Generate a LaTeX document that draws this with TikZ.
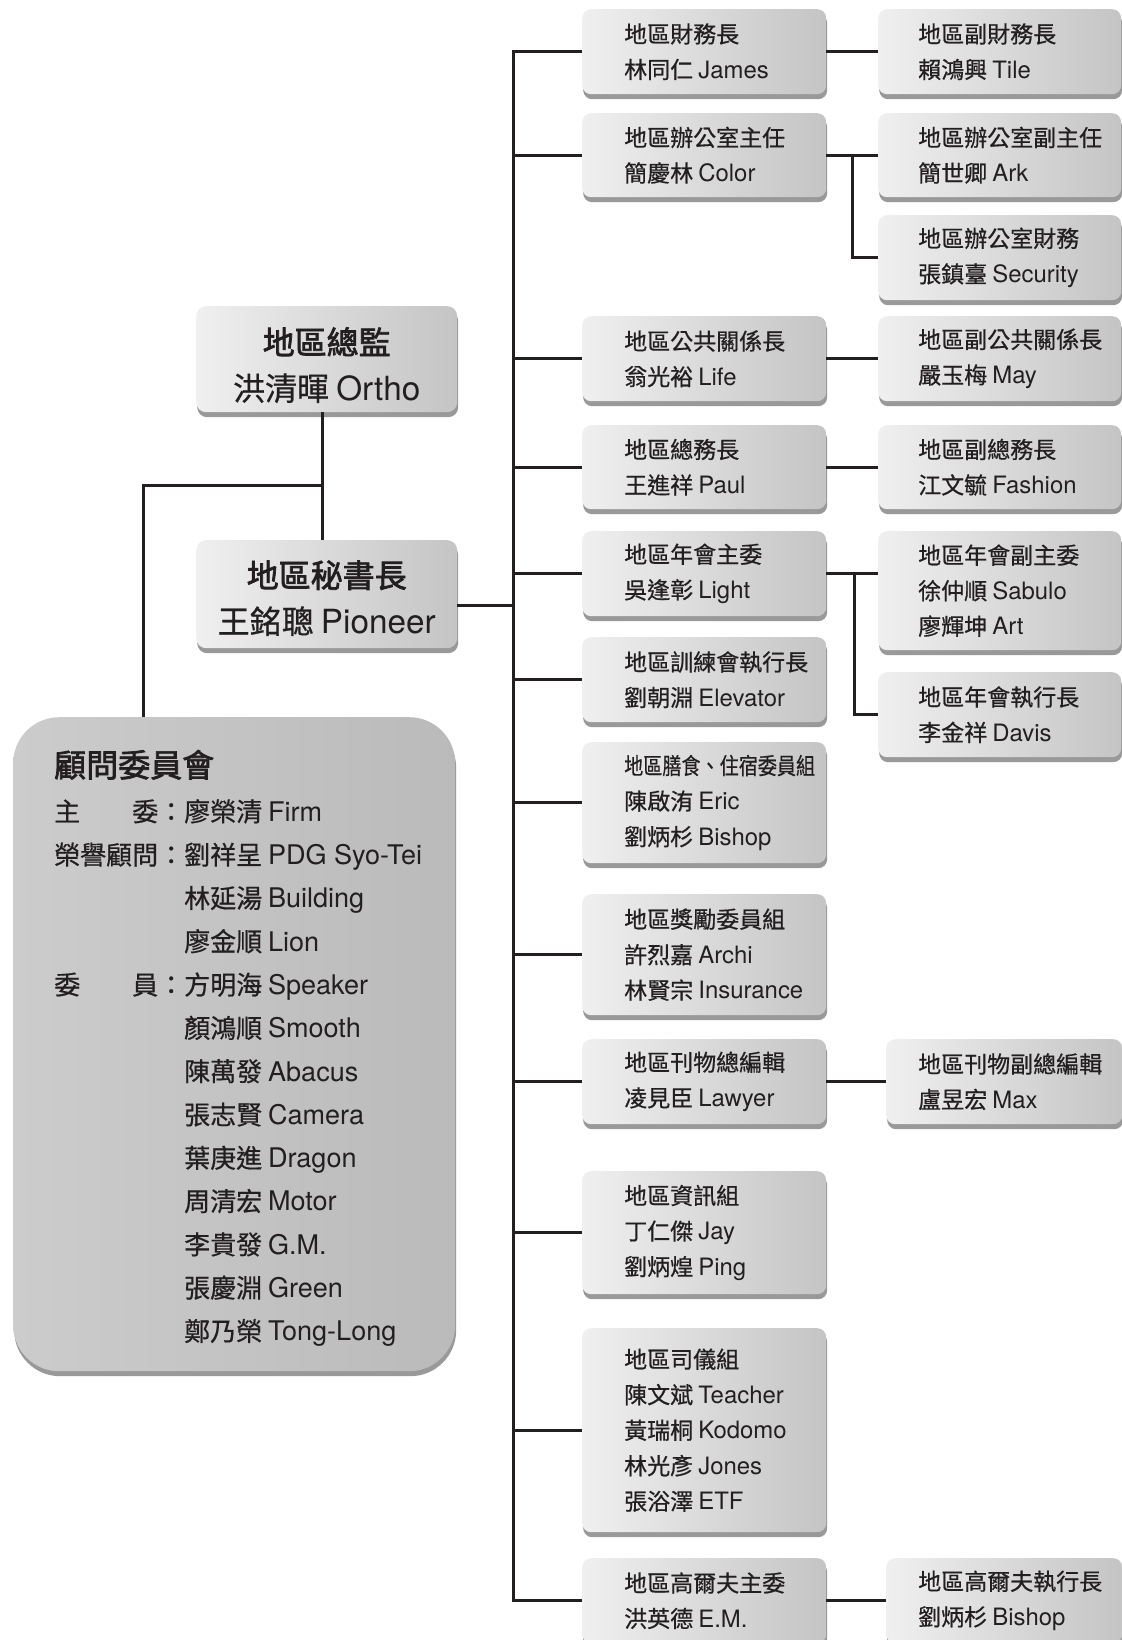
\documentclass[tikz,border=0pt]{standalone}
\usepackage{graphicx}
\usepackage{fontspec}
\setmainfont{Noto Sans CJK TC}[FakeBold=0.6]
\newfontfamily\hdfont{Noto Sans CJK TC}[FakeBold=2.2]
\newfontfamily\en{TeX Gyre Heros}[Scale=1.04]
\usetikzlibrary{shadows,calc}
\definecolor{ink}{HTML}{231F20}
\newcommand\nm[2]{#1 {\en #2}}
\newcommand\lb[2]{\makebox[4em][l]{#1\hfill#2}：}
\newcommand\nolb{\hspace*{5em}}
\begin{document}
\begin{tikzpicture}[x=1pt,y=-1pt,
  conn/.style={draw=ink,line width=3pt},
  box/.style={anchor=north west, inner sep=0pt, rounded corners=9pt,
    left color=black!6, right color=black!23,
    general shadow={shadow xshift=1pt, shadow yshift=-5pt, fill=black!40}},
  mbox/.style={box, minimum width=244pt},
  rbox/.style={box, minimum width=243pt},
  sbox/.style={box, minimum width=236pt},
  lbox/.style={box, minimum width=261pt, rounded corners=10pt},
  abox/.style={box, minimum width=442pt, minimum height=654pt, rounded corners=46pt,
    left color=black!20, middle color=black!5, right color=black!27},
  txt/.style={anchor=west, align=left, inner sep=0pt, text=ink,
    font=\fontsize{23}{35.5}\selectfont},
  ltxt/.style={align=center, inner sep=0pt, text=ink,
    font=\fontsize{32}{46}\selectfont}
]
\useasboundingbox (0,0) rectangle (1121,1640);

% ---------- left column ----------
\node[lbox, minimum height=106pt] (L1) at (196,306) {};
\node[lbox, minimum height=108pt] (L2) at (196,540) {};
\node[abox] (A) at (13,717) {};
\node[ltxt] at ([yshift=-6pt]L1.center) {{\hdfont 地區總監}\\\nm{洪清暉}{Ortho}};
\node[ltxt] at ([yshift=-4pt]L2.center) {{\hdfont 地區秘書長}\\\nm{王銘聰}{Pioneer}};

\node[anchor=base west, inner sep=0pt, text=ink, font=\hdfont\fontsize{32}{32}\selectfont] (AT) at (54,777) {顧問委員會};
\node[anchor=north west, align=left, inner sep=0pt, text=ink, font=\fontsize{26}{43.3}\selectfont] (AL) at (54,799) {%
\lb{主}{委}\nm{廖榮清}{Firm}\\
\lb{榮譽}{顧問}\nm{劉祥呈}{PDG Syo-Tei}\\
\nolb\nm{林延湯}{Building}\\
\nolb\nm{廖金順}{Lion}\\
\lb{委}{員}\nm{方明海}{Speaker}\\
\nolb\nm{顏鴻順}{Smooth}\\
\nolb\nm{陳萬發}{Abacus}\\
\nolb\nm{張志賢}{Camera}\\
\nolb\nm{葉庚進}{Dragon}\\
\nolb\nm{周清宏}{Motor}\\
\nolb\nm{李貴發}{G.M.}\\
\nolb\nm{張慶淵}{Green}\\
\nolb\nm{鄭乃榮}{Tong-Long}};

% ---------- middle column ----------
\node[mbox, minimum height=85pt]  (m1)  at (582,9) {};
\node[mbox, minimum height=84pt]  (m2)  at (582,113) {};
\node[mbox, minimum height=85pt]  (m3)  at (582,316) {};
\node[mbox, minimum height=84pt]  (m4)  at (582,425) {};
\node[mbox, minimum height=85pt]  (m5)  at (582,531) {};
\node[mbox, minimum height=85pt]  (m6)  at (582,637) {};
\node[mbox, minimum height=121pt] (m7)  at (582,742) {};
\node[mbox, minimum height=121pt] (m8)  at (582,894) {};
\node[mbox, minimum height=85pt]  (m9)  at (582,1039) {};
\node[mbox, minimum height=123pt] (m10) at (582,1171) {};
\node[mbox, minimum height=204pt] (m11) at (582,1328) {};
\node[mbox, minimum height=85pt]  (m12) at (582,1558) {};

\node[txt] at ([xshift=42pt]m1.west)  {地區財務長\\\nm{林同仁}{James}};
\node[txt] at ([xshift=42pt]m2.west)  {地區辦公室主任\\\nm{簡慶林}{Color}};
\node[txt] at ([xshift=42pt]m3.west)  {地區公共關係長\\\nm{翁光裕}{Life}};
\node[txt] at ([xshift=42pt]m4.west)  {地區總務長\\\nm{王進祥}{Paul}};
\node[txt] at ([xshift=42pt]m5.west)  {地區年會主委\\\nm{吳逢彰}{Light}};
\node[txt] at ([xshift=42pt]m6.west)  {地區訓練會執行長\\\nm{劉朝淵}{Elevator}};
\node[txt] at ([xshift=42pt]m7.west)  {\scalebox{0.83}[1]{地區膳食、住宿委員組}\\\nm{陳啟洧}{Eric}\\\nm{劉炳杉}{Bishop}};
\node[txt] at ([xshift=42pt]m8.west)  {地區獎勵委員組\\\nm{許烈嘉}{Archi}\\\nm{林賢宗}{Insurance}};
\node[txt] at ([xshift=42pt]m9.west)  {地區刊物總編輯\\\nm{凌見臣}{Lawyer}};
\node[txt] at ([xshift=42pt]m10.west) {地區資訊組\\\nm{丁仁傑}{Jay}\\\nm{劉炳煌}{Ping}};
\node[txt] at ([xshift=42pt]m11.west) {地區司儀組\\\nm{陳文斌}{Teacher}\\\nm{黃瑞桐}{Kodomo}\\\nm{林光彥}{Jones}\\\nm{張浴澤}{ETF}};
\node[txt] at ([xshift=42pt]m12.west) {地區高爾夫主委\\\nm{洪英德}{E.M.}};

% ---------- right column ----------
\node[rbox, minimum height=85pt]  (r1) at (878,9) {};
\node[rbox, minimum height=84pt]  (r2) at (878,113) {};
\node[rbox, minimum height=85pt]  (r3) at (878,215) {};
\node[rbox, minimum height=85pt]  (r4) at (878,316) {};
\node[rbox, minimum height=84pt]  (r5) at (878,425) {};
\node[rbox, minimum height=119pt] (r6) at (878,531) {};
\node[rbox, minimum height=85pt]  (r7) at (878,672) {};
\node[sbox, minimum height=85pt]  (r8) at (886,1039) {};
\node[sbox, minimum height=85pt]  (r9) at (886,1558) {};

\node[txt] at ([xshift=40pt]r1.west) {地區副財務長\\\nm{賴鴻興}{Tile}};
\node[txt] at ([xshift=40pt]r2.west) {地區辦公室副主任\\\nm{簡世卿}{Ark}};
\node[txt] at ([xshift=40pt]r3.west) {地區辦公室財務\\\nm{張鎮臺}{Security}};
\node[txt] at ([xshift=40pt]r4.west) {地區副公共關係長\\\nm{嚴玉梅}{May}};
\node[txt] at ([xshift=40pt]r5.west) {地區副總務長\\\nm{江文毓}{Fashion}};
\node[txt] at ([xshift=40pt]r6.west) {地區年會副主委\\\nm{徐仲順}{Sabulo}\\\nm{廖輝坤}{Art}};
\node[txt] at ([xshift=40pt]r7.west) {地區年會執行長\\\nm{李金祥}{Davis}};
\node[txt] at ([xshift=32pt]r8.west) {地區刊物副總編輯\\\nm{盧昱宏}{Max}};
\node[txt] at ([xshift=32pt]r9.west) {地區高爾夫執行長\\\nm{劉炳杉}{Bishop}};

% ---------- connectors ----------
\coordinate (bus) at (513,0);
\coordinate (j1) at ($([xshift=-4pt]L1.south)!0.57!([xshift=-4pt]L2.north)$);
\draw[conn] ([xshift=-4pt]L1.south) -- ([xshift=-4pt]L2.north);
\draw[conn] (j1) -| ([xshift=130pt]A.north west);
\draw[conn] ([yshift=-11pt]L2.east) -- ([yshift=-11pt]L2.east -| bus);
\draw[conn] (m1.west) -- (m1.west -| bus) -- (m12.west -| bus) -- (m12.west);
\foreach \n in {m2,m3,m4,m5,m6,m7,m8,m9,m10,m11}
  \draw[conn] (\n.west -| bus) -- (\n.west);

\draw[conn] (m1.east) -- (r1.west);
\draw[conn] (m2.east) -- (r2.west);
\draw[conn] ($(m2.east)!0.5!(r2.west)$) |- (r3.west);
\draw[conn] (m3.east) -- (r4.west);
\draw[conn] (m4.east) -- (r5.west);
\draw[conn] (m5.east) -- (m5.east -| r6.west);
\draw[conn] ($(m5.east)!0.55!(m5.east -| r6.west)$) |- (r7.west);
\draw[conn] (m9.east) -- (r8.west);
\draw[conn] (m12.east) -- (r9.west);
\end{tikzpicture}
\end{document}
